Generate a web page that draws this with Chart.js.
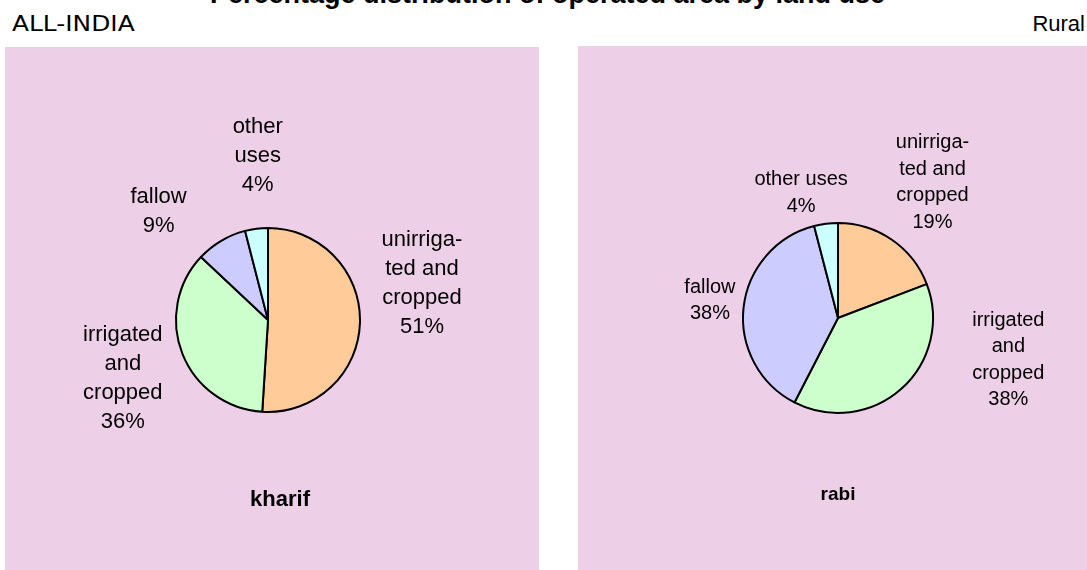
<!DOCTYPE html>
<html>
<head>
<meta charset="utf-8">
<script src="https://cdn.jsdelivr.net/npm/chart.js@4.4.1/dist/chart.umd.min.js"></script>
<style>
  body { margin: 0; background: #fff; width: 1087px; height: 570px; overflow: hidden; position: relative; font-family: "Liberation Sans", Arial, sans-serif; }
  #title { position: absolute; left: 0; width: 1095px; top: -19px; text-align: center; font-weight: bold; font-size: 27px; line-height: 27px; color: #000; white-space: nowrap; }
  #region { position: absolute; left: 12px; top: 13px; font-family: "DejaVu Sans", sans-serif; font-size: 22px; line-height: 22px; color: #000; transform: scaleX(1.13); transform-origin: left center; }
  #sector { position: absolute; right: 2px; top: 13px; font-size: 22px; line-height: 22px; color: #000; }
  canvas { position: absolute; }
  #kharifChart { left: 5px; top: 47px; }
  #rabiChart { left: 578px; top: 46px; }
</style>
</head>
<body>
<div id="title">Percentage distribution of operated area by land use</div>
<div id="region">ALL-INDIA</div>
<div id="sector">Rural</div>
<canvas id="kharifChart" width="534" height="523"></canvas>
<canvas id="rabiChart" width="509" height="524"></canvas>
<script>
// land use categories, same order in both charts
const categories = ['unirrigated and cropped', 'irrigated and cropped', 'fallow', 'other uses'];
const sliceColors = ['#FFCC99', '#CCFFCC', '#CCCCFF', '#CCFFFF'];

const kharifValues = [51, 36, 9, 4];
const rabiValues = [19, 38, 38, 4];

// label text as wrapped in the picture (percentage added below)
const kharifLabels = [['unirriga-', 'ted and', 'cropped'], ['irrigated', 'and', 'cropped'], ['fallow'], ['other', 'uses']];
const rabiLabels = [['unirriga-', 'ted and', 'cropped'], ['irrigated', 'and', 'cropped'], ['fallow'], ['other uses']];

const panelPlugin = {
  id: 'panel',
  beforeDraw(chart) {
    const ctx = chart.ctx;
    ctx.save();
    ctx.fillStyle = '#EECFE8';
    ctx.fillRect(0, 0, chart.width, chart.height);
    ctx.restore();
  },
  afterDatasetsDraw(chart, args, opts) {
    const ctx = chart.ctx;
    const meta = chart.getDatasetMeta(0);
    const values = chart.data.datasets[0].data;
    ctx.save();
    ctx.fillStyle = '#000';
    ctx.textAlign = 'center';
    ctx.textBaseline = 'middle';
    ctx.font = opts.fontSize + 'px "Liberation Sans", Arial, sans-serif';
    meta.data.forEach((arc, i) => {
      const mid = (arc.startAngle + arc.endAngle) / 2;
      const dist = arc.outerRadius + opts.gap;
      const nudge = opts.nudges[i];
      const cx = arc.x + Math.cos(mid) * dist + nudge[0];
      const cy = arc.y + Math.sin(mid) * dist + nudge[1];
      const lines = opts.labels[i].concat([values[i] + '%']);
      const top = cy - (lines.length - 1) * opts.lineHeight / 2;
      lines.forEach((ln, k) => ctx.fillText(ln, cx, top + k * opts.lineHeight));
    });
    ctx.font = 'bold ' + opts.nameSize + 'px "Liberation Sans", Arial, sans-serif';
    ctx.fillText(opts.name, opts.namePos[0], opts.namePos[1]);
    ctx.restore();
  }
};

function createPie(id, values, labels, padding, panel) {
  const ctx = document.getElementById(id).getContext('2d');
  return new Chart(ctx, {
    type: 'pie',
    data: {
      labels: categories,
      datasets: [{
        data: values,
        backgroundColor: sliceColors,
        borderColor: '#000',
        borderWidth: 2
      }]
    },
    options: {
      responsive: false,
      animation: false,
      layout: { padding: padding },
      plugins: {
        legend: { display: false },
        tooltip: { enabled: false },
        panel: Object.assign({ labels: labels }, panel)
      }
    },
    plugins: [panelPlugin]
  });
}

createPie('kharifChart', kharifValues, kharifLabels,
  { left: 170, right: 178, top: 180, bottom: 157 },
  { fontSize: 22, lineHeight: 29, gap: 62,
    nudges: [[0, -41], [-2, 2], [-31, 24], [9, -11]],
    name: 'kharif', nameSize: 22, namePos: [275, 453] });

createPie('rabiChart', rabiValues, rabiLabels,
  { left: 164, right: 153, top: 176, bottom: 156 },
  { fontSize: 20, lineHeight: 26.5, gap: 54,
    nudges: [[10, -13], [71, -69], [20, -1], [-18, 23]],
    name: 'rabi', nameSize: 19, namePos: [260, 449] });
</script>
</body>
</html>
